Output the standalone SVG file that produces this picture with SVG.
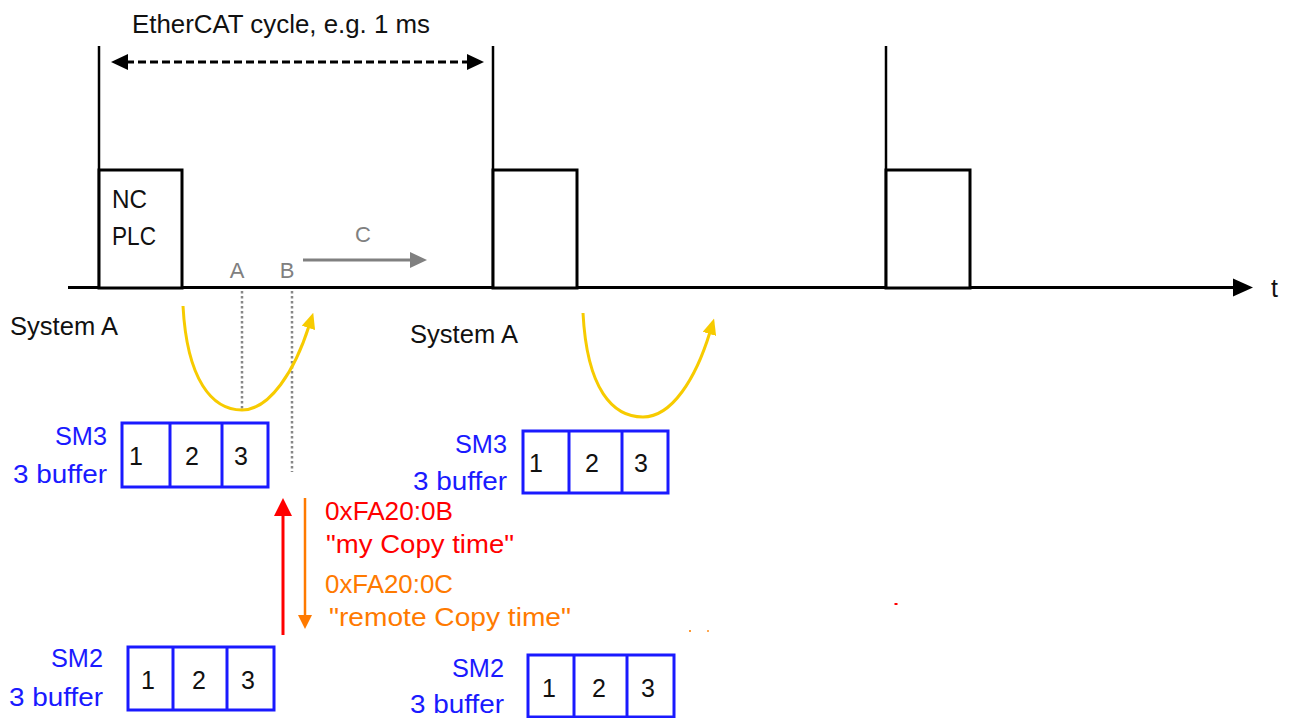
<svg xmlns="http://www.w3.org/2000/svg" width="1289" height="718" viewBox="0 0 1289 718">
  <style>
    text { font-family: "Liberation Sans", Arial, sans-serif; }
    .lbl { font-size: 25px; fill: #111; }
    .gray { font-size: 22px; fill: #808080; }
    .blue { font-size: 26px; fill: #1a1aff; text-anchor: end; }
    .dig { font-size: 25px; fill: #111; text-anchor: middle; }
    .buf { fill: #fff; stroke: #1a1aff; stroke-width: 3; }
    .div { stroke: #1a1aff; stroke-width: 3; }
    .cyc { fill: #fff; stroke: #000; stroke-width: 3; }
    .vline { stroke: #000; stroke-width: 2.5; }
    .yel { fill: none; stroke: #F7CB00; stroke-width: 3; }
    .dot { stroke: #888; stroke-width: 2.5; stroke-dasharray: 2.5 2.5; }
  </style>
  <defs>
    <marker id="ahY" viewBox="0 0 16 14" refX="2" refY="7" markerWidth="16" markerHeight="14" orient="auto" markerUnits="userSpaceOnUse">
      <path d="M0,0 L16,7 L0,14 z" fill="#F7CB00"/>
    </marker>
  </defs>
  <rect width="1289" height="718" fill="#fff"/>

  <!-- title -->
  <text id="title" class="lbl" x="132" y="33" textLength="298" lengthAdjust="spacingAndGlyphs">EtherCAT cycle, e.g. 1 ms</text>

  <!-- time axis and cycle marks -->
  <g id="axis">
    <line x1="68" y1="287.5" x2="1236" y2="287.5" stroke="#000" stroke-width="3"/>
    <polygon points="1253,287.5 1233,278.5 1233,296.5" fill="#000"/>
    <text class="lbl" x="1271" y="297" font-size="24">t</text>
    <line class="vline" x1="99" y1="46" x2="99" y2="288"/>
    <line class="vline" x1="493" y1="46" x2="493" y2="288"/>
    <line class="vline" x1="886" y1="46" x2="886" y2="288"/>
  </g>

  <g id="cycle1">
    <rect class="cyc" x="99" y="170" width="83" height="118"/>
    <text class="lbl" x="112" y="208" font-size="26" textLength="35" lengthAdjust="spacingAndGlyphs">NC</text>
    <text class="lbl" x="112" y="245" font-size="26" textLength="44" lengthAdjust="spacingAndGlyphs">PLC</text>
  </g>
  <g id="cycle2">
    <rect class="cyc" x="493" y="170" width="84" height="118"/>
  </g>
  <g id="cycle3">
    <rect class="cyc" x="886" y="170" width="84" height="118"/>
  </g>

  <g id="markers">
    <text class="gray" x="237" y="278" text-anchor="middle">A</text>
    <text class="gray" x="287" y="278" text-anchor="middle">B</text>
    <text class="gray" x="363" y="242" text-anchor="middle">C</text>
  </g>

  <g id="systemA1"><text class="lbl" x="10" y="335" textLength="108" lengthAdjust="spacingAndGlyphs">System A</text></g>
  <g id="systemA2"><text class="lbl" x="410" y="343" textLength="108" lengthAdjust="spacingAndGlyphs">System A</text></g>

  <!-- buffers -->
  <g id="sm3-left">
    <text class="blue" x="107" y="445" textLength="52" lengthAdjust="spacingAndGlyphs">SM3</text>
    <text class="blue" x="107" y="483" textLength="94" lengthAdjust="spacingAndGlyphs">3 buffer</text>
    <rect class="buf" x="122" y="423" width="146" height="64"/>
    <line class="div" x1="170" y1="423" x2="170" y2="487"/>
    <line class="div" x1="222" y1="423" x2="222" y2="487"/>
    <text class="dig" x="136" y="465">1</text>
    <text class="dig" x="192" y="465">2</text>
    <text class="dig" x="241" y="465">3</text>
  </g>
  <g id="sm3-right">
    <text class="blue" x="507" y="453" textLength="52" lengthAdjust="spacingAndGlyphs">SM3</text>
    <text class="blue" x="507" y="490" textLength="94" lengthAdjust="spacingAndGlyphs">3 buffer</text>
    <rect class="buf" x="523" y="431" width="145" height="62"/>
    <line class="div" x1="569" y1="431" x2="569" y2="493"/>
    <line class="div" x1="622" y1="431" x2="622" y2="493"/>
    <text class="dig" x="536" y="472">1</text>
    <text class="dig" x="592" y="472">2</text>
    <text class="dig" x="641" y="472">3</text>
  </g>
  <g id="sm2-left">
    <text class="blue" x="103" y="667" textLength="52" lengthAdjust="spacingAndGlyphs">SM2</text>
    <text class="blue" x="103" y="706" textLength="94" lengthAdjust="spacingAndGlyphs">3 buffer</text>
    <rect class="buf" x="128" y="647" width="146" height="63"/>
    <line class="div" x1="173" y1="647" x2="173" y2="710"/>
    <line class="div" x1="227" y1="647" x2="227" y2="710"/>
    <text class="dig" x="148" y="689">1</text>
    <text class="dig" x="199" y="689">2</text>
    <text class="dig" x="248" y="689">3</text>
  </g>
  <g id="sm2-right">
    <text class="blue" x="504" y="677" textLength="52" lengthAdjust="spacingAndGlyphs">SM2</text>
    <text class="blue" x="504" y="713" textLength="94" lengthAdjust="spacingAndGlyphs">3 buffer</text>
    <rect class="buf" x="528" y="655" width="146" height="62"/>
    <line class="div" x1="574" y1="655" x2="574" y2="717"/>
    <line class="div" x1="627" y1="655" x2="627" y2="717"/>
    <text class="dig" x="549" y="697">1</text>
    <text class="dig" x="599" y="697">2</text>
    <text class="dig" x="648" y="697">3</text>
  </g>

  <g id="copy-labels">
    <text x="325" y="520" font-size="26" fill="#ff0000" textLength="128" lengthAdjust="spacingAndGlyphs">0xFA20:0B</text>
    <text x="326" y="553" font-size="26" fill="#ff0000" textLength="188" lengthAdjust="spacingAndGlyphs">"my Copy time"</text>
    <text x="325" y="593" font-size="26" fill="#ff7a00" textLength="128" lengthAdjust="spacingAndGlyphs">0xFA20:0C</text>
    <text x="329" y="626" font-size="26" fill="#ff7a00" textLength="242" lengthAdjust="spacingAndGlyphs">"remote Copy time"</text>
  </g>

  <!-- connectors -->
  <g id="connectors">
    <line x1="126" y1="62" x2="469" y2="62" stroke="#000" stroke-width="3" stroke-dasharray="8 4"/>
    <polygon points="111,62 128,54 128,70" fill="#000"/>
    <polygon points="484,62 467,54 467,70" fill="#000"/>
    <line x1="303" y1="260" x2="412" y2="260" stroke="#808080" stroke-width="3"/>
    <polygon points="427,260 410,252 410,268" fill="#808080"/>
    <line class="dot" x1="242" y1="291" x2="242" y2="410"/>
    <line class="dot" x1="292" y1="291" x2="292" y2="472"/>
    <path class="yel" d="M183,306 C187,380 212,410 242,410 C270,410 295,370 309,326" marker-end="url(#ahY)"/>
    <path class="yel" d="M583,313 C587,390 613,417 643,417 C672,417 696,378 710,332" marker-end="url(#ahY)"/>
    <line x1="283" y1="635" x2="283" y2="512" stroke="#ff0000" stroke-width="3"/>
    <polygon points="283,498 274,516 292,516" fill="#ff0000"/>
    <line x1="305" y1="498" x2="305" y2="616" stroke="#ff7a00" stroke-width="2.5"/>
    <polygon points="305,629 298,615 312,615" fill="#ff7a00"/>
  </g>

  <g id="specks">
    <rect x="894.5" y="603" width="3" height="2" fill="#ff0000"/>
    <rect x="689" y="630" width="2" height="2" fill="#ff9933"/>
    <rect x="707" y="630" width="2" height="2" fill="#ffaa55"/>
  </g>
</svg>
